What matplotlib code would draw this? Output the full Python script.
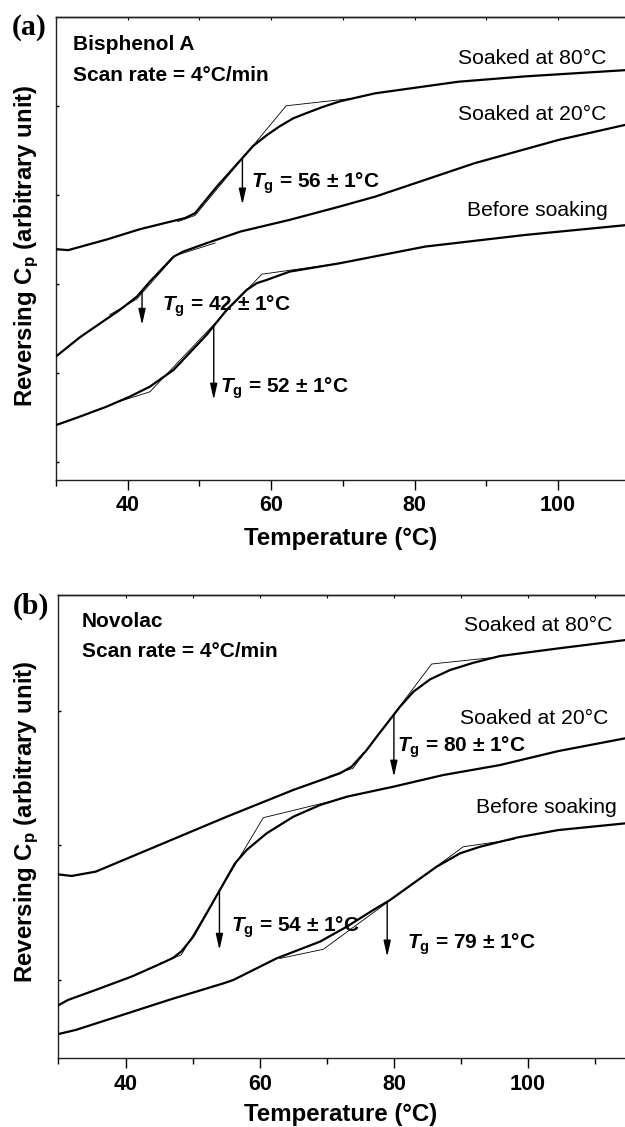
import numpy as np
import matplotlib
matplotlib.use('Agg')
import matplotlib.pyplot as plt
from matplotlib.ticker import MultipleLocator

plt.rcParams['font.family'] = ['Liberation Sans', 'DejaVu Sans']
plt.rcParams['mathtext.fontset'] = 'custom'
plt.rcParams['mathtext.rm'] = 'Liberation Sans:bold'
plt.rcParams['mathtext.it'] = 'Liberation Sans:italic:bold'
plt.rcParams['mathtext.bf'] = 'Liberation Sans:bold'

# ---- (a) Bisphenol A : reversing Cp curves (arbitrary units) ----
a80_T = [30.1, 31.7, 37.1, 41.7, 48.0, 49.4, 52.4, 56.4, 57.5, 59.4, 61.2, 63.1, 65.0, 67.3, 69.6,
         74.5, 86.1, 95.4, 109.4]
a80_cp = [2.39, 2.38, 2.50, 2.615, 2.74, 2.795, 3.09, 3.45, 3.55, 3.67, 3.77, 3.86, 3.92, 3.99, 4.05,
          4.14, 4.27, 4.33, 4.40]
a20_T = [30.1, 33.35, 38.9, 41.3, 43.1, 46.4, 47.75, 51.0, 55.7, 62.6, 69.6, 74.5, 88.4, 100.1, 109.4]
a20_cp = [1.193, 1.403, 1.709, 1.859, 2.027, 2.307, 2.364, 2.458, 2.588, 2.72, 2.87, 2.98, 3.356, 3.617, 3.786]
a0_T = [30.1, 33.35, 37.07, 40.3, 43.1, 46.4, 51.0, 53.8, 56.6, 58.0, 59.4, 62.6, 69.6, 81.5, 95.4, 109.4]
a0_cp = [0.419, 0.512, 0.624, 0.736, 0.848, 1.036, 1.429, 1.709, 1.934, 2.009, 2.046, 2.139, 2.233, 2.42,
         2.55, 2.66]

# tangent constructions (onset / midpoint / end)
a80_tan_T = [47.0, 49.4, 62.1, 71.0]
a80_tan_cp = [2.70, 2.77, 4.00, 4.08]
a20_tan_T = [37.5, 41.25, 46.6, 52.2]
a20_tan_cp = [1.655, 1.83, 2.317, 2.46]
a0_tan_T = [38.0, 43.1, 58.7, 69.6]
a0_tan_cp = [0.66, 0.79, 2.11, 2.233]

a_tg = [56, 42, 52]
a_arrow_end = [2.89, 1.54, 0.70]

# ---- (b) Novolac ----
b80_T = [29.9, 31.98, 35.56, 40.3, 45.14, 48.0, 55.08, 65.0, 71.97, 73.7, 75.95, 77.44, 79.17, 80.9,
         82.9, 85.4, 88.36, 91.83, 95.8, 104.5, 114.5]
b80_cp = [0.785, 0.773, 0.805, 0.904, 1.005, 1.065, 1.213, 1.412, 1.536, 1.585, 1.709, 1.808, 1.919, 2.030,
          2.142, 2.234, 2.303, 2.357, 2.407, 2.464, 2.526]
b20_T = [29.9, 31.4, 35.56, 40.9, 45.6, 47.12, 48.38, 50.1, 52.1, 54.34, 56.32, 58.06, 61.04, 65.0,
         68.99, 72.97, 79.9, 87.36, 95.8, 104.5, 114.5]
b20_cp = [-0.191, -0.149, -0.074, 0.025, 0.129, 0.165, 0.215, 0.322, 0.496, 0.693, 0.867, 0.966, 1.090,
          1.213, 1.300, 1.362, 1.436, 1.523, 1.597, 1.701, 1.796]
b0_T = [29.9, 32.6, 39.1, 46.8, 54.6, 56.07, 62.53, 68.99, 72.97, 76.93, 79.42, 82.89, 86.38, 89.85,
        92.83, 95.8, 98.5, 104.5, 114.5]
b0_cp = [-0.403, -0.371, -0.267, -0.143, -0.025, 0.0, 0.161, 0.285, 0.396, 0.520, 0.594, 0.718, 0.842,
         0.941, 0.990, 1.027, 1.060, 1.114, 1.164]

b80_tan_T = [70.5, 73.9, 85.63, 95.5]
b80_tan_cp = [1.516, 1.573, 2.348, 2.40]
b20_tan_T = [45.1, 48.3, 60.54, 73.0]
b20_tan_cp = [0.123, 0.186, 1.206, 1.357]
b0_tan_T = [63.0, 69.48, 90.34, 97.9]
b0_tan_cp = [0.160, 0.228, 0.990, 1.045]

b_tg = [80, 54, 79]
b_arrow_end = [1.51, 0.223, 0.173]

series_labels = ['Soaked at 80°C', 'Soaked at 20°C', 'Before soaking']

W, H = 625, 1127
fig = plt.figure(figsize=(W / 100, H / 100), dpi=100)


def px(x, y):
    return x / W, 1 - y / H


def setup_axes(ax, xlim, ylim, yticks):
    ax.set_xlim(*xlim)
    ax.set_ylim(*ylim)
    for s in ['left', 'bottom', 'top']:
        ax.spines[s].set_linewidth(1.0)
        ax.spines[s].set_color('#222222')
    ax.spines['right'].set_visible(False)
    ax.xaxis.set_major_locator(MultipleLocator(20))
    ax.xaxis.set_minor_locator(MultipleLocator(10))
    ax.tick_params(axis='x', which='major', direction='out', length=7, width=1,
                   labelsize=15.5, pad=4)
    ax.tick_params(axis='x', which='minor', direction='out', length=4, width=1)
    for lab in ax.get_xticklabels():
        lab.set_fontweight('bold')
    ax.set_yticks(yticks)
    ax.tick_params(axis='y', direction='in', length=2.5, width=1, labelleft=False)
    top = ax.secondary_xaxis('top')
    top.xaxis.set_major_locator(MultipleLocator(10))
    top.tick_params(direction='in', length=2, width=0.8, labeltop=False)
    top.spines['top'].set_linewidth(1.0)


def draw_panel(ax, curves, tangents, tgs, ends, tg_text_pos, label_pos):
    for (T, cp), (tT, tcp) in zip(curves, tangents):
        ax.plot(tT, tcp, color='black', lw=0.6, zorder=2)
        ax.plot(T, cp, color='black', lw=1.6, zorder=3, solid_joinstyle='round')
    for (T, cp), tg, end, (tx, ty) in zip(curves, tgs, ends, tg_text_pos):
        start = np.interp(tg, T, cp)
        ax.annotate('', xy=(tg, end), xytext=(tg, start),
                    arrowprops=dict(arrowstyle='-|>,head_length=0.8,head_width=0.18',
                                    lw=1.0, color='black', shrinkA=0, shrinkB=0,
                                    mutation_scale=12))
        ax.text(tx, ty, r'$T_\mathrm{g}$ = %d ± 1°C' % tg, fontsize=15,
                fontweight='bold', ha='left', va='center')
    for lab, (lx, ly) in zip(series_labels, label_pos):
        ax.text(lx, ly, lab, fontsize=15.2, ha='right', va='center')


# panel (a)
ax_a = fig.add_axes([56 / W, 1 - 480 / H, 573.6 / W, 463.3 / H])
setup_axes(ax_a, (30, 110), (-0.2, 5.0), [0, 1, 2, 3, 4])
draw_panel(ax_a,
           [(a80_T, a80_cp), (a20_T, a20_cp), (a0_T, a0_cp)],
           [(a80_tan_T, a80_tan_cp), (a20_tan_T, a20_tan_cp), (a0_tan_T, a0_tan_cp)],
           a_tg, a_arrow_end,
           [(57.15, 3.13), (44.74, 1.746), (52.87, 0.83)],
           [(106.8, 4.535), (106.8, 3.898), (107.0, 2.824)])
ax_a.text(32.33, 4.685, 'Bisphenol A', fontsize=15, fontweight='bold', va='center')
ax_a.text(32.33, 4.339, 'Scan rate = 4°C/min', fontsize=15, fontweight='bold', va='center')

# panel (b)
ax_b = fig.add_axes([58.4 / W, 1 - 1058.3 / H, 570.35 / W, 463.6 / H])
setup_axes(ax_b, (30, 115), (-0.582, 2.863), [0, 1, 2])
draw_panel(ax_b,
           [(b80_T, b80_cp), (b20_T, b20_cp), (b0_T, b0_cp)],
           [(b80_tan_T, b80_tan_cp), (b20_tan_T, b20_tan_cp), (b0_tan_T, b0_tan_cp)],
           b_tg, b_arrow_end,
           [(80.4, 1.733), (55.75, 0.392), (81.88, 0.267)],
           [(112.5, 2.632), (112.0, 1.944), (113.2, 1.283)])
ax_b.text(33.47, 2.662, 'Novolac', fontsize=15, fontweight='bold', va='center')
ax_b.text(33.47, 2.439, 'Scan rate = 4°C/min', fontsize=15, fontweight='bold', va='center')

# axis titles and panel letters
for yc, xl_y in [(245.5, 538.3), (821.7, 1114)]:
    fig.text(*px(27, yc), r'Reversing C$_\mathrm{p}$ (arbitrary unit)', rotation=90,
             fontsize=17.3, fontweight='bold', ha='center', va='center')
    fig.text(*px(340.5, xl_y), 'Temperature (°C)', fontsize=17.3, fontweight='bold',
             ha='center', va='center')

fig.text(*px(29, 27.5), '(a)', family=['Liberation Serif', 'DejaVu Serif'],
         fontsize=21.5, fontweight='bold', ha='center', va='center')
fig.text(*px(30.5, 606.7), '(b)', family=['Liberation Serif', 'DejaVu Serif'],
         fontsize=21.5, fontweight='bold', ha='center', va='center')

fig.savefig('out.png', dpi=100)
